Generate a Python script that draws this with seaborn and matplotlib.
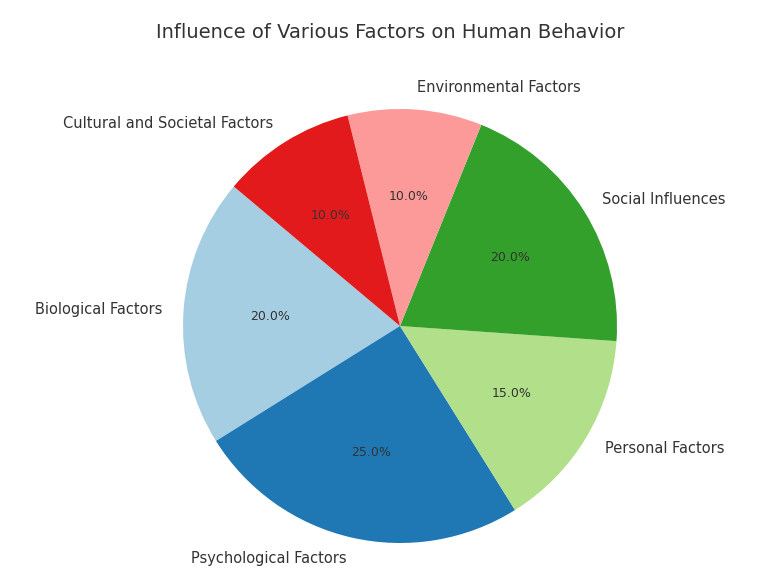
import matplotlib
matplotlib.use("Agg")
import matplotlib.pyplot as plt
import seaborn as sns

labels = ["Biological Factors", "Psychological Factors", "Personal Factors",
          "Social Influences", "Environmental Factors", "Cultural and Societal Factors"]
values = [20, 25, 15, 20, 10, 10]

sns.set_style("white")
colors = sns.color_palette("Paired", 6)

W, H = 780, 572
cx, cy, r = 400, 326, 217

fig = plt.figure(figsize=(7.8, 5.72), dpi=100)
ax = fig.add_axes([0, 0, 1, 1])
wedges, texts, autotexts = ax.pie(values, labels=labels, colors=colors, autopct="%1.1f%%",
                                  startangle=140, wedgeprops={"linewidth": 0},
                                  textprops={"fontsize": 10.5, "color": "#333333"})
for t in autotexts:
    t.set_fontsize(9)
ax.set_xlim(-cx / r, (W - cx) / r)
ax.set_ylim(-(H - cy) / r, cy / r)
ax.set_aspect("auto")
ax.axis("off")
fig.text(0.5, 1 - 32 / H, "Influence of Various Factors on Human Behavior",
         fontsize=14, color="#333333", ha="center", va="center")
fig.savefig("out.png", dpi=100)
